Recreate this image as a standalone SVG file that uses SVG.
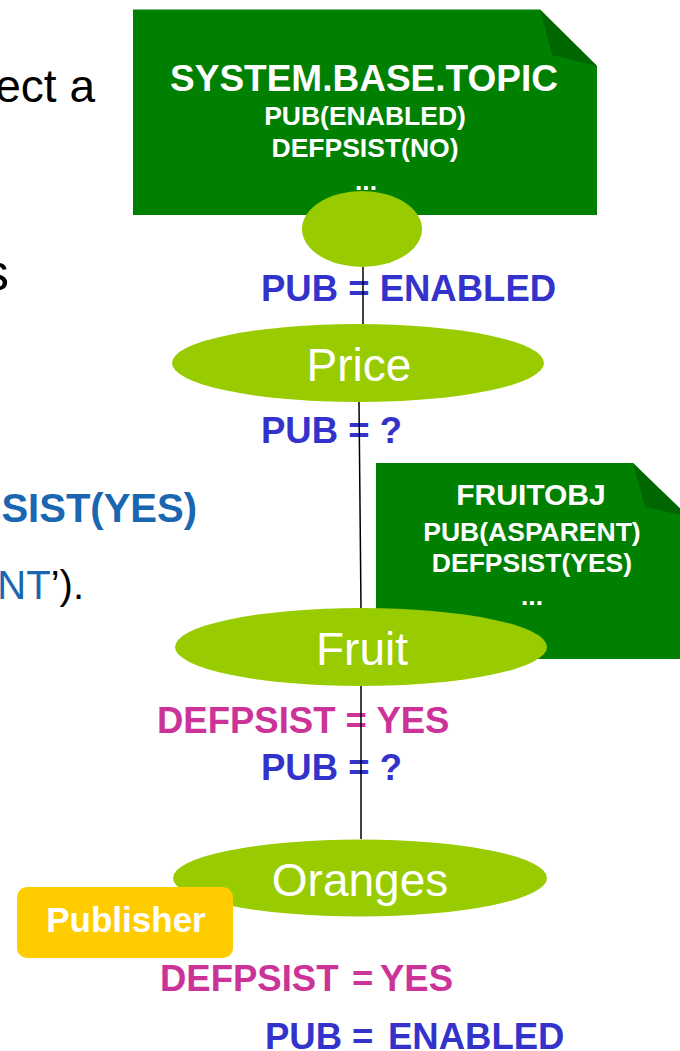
<svg xmlns="http://www.w3.org/2000/svg" width="680" height="1051" viewBox="0 0 680 1051">
<style>
.note{fill:#008000}
.fold{fill:#006600}
.ell{fill:#99cc00}
.nt{font-family:"Liberation Sans",Arial,sans-serif;font-weight:bold;fill:#ffffff;text-anchor:middle}
.et{font-family:"Liberation Sans",Arial,sans-serif;fill:#ffffff;text-anchor:middle;font-size:46px}
.lb{font-family:"Liberation Sans",Arial,sans-serif;font-weight:bold;font-size:36.5px}
.blue{fill:#3333cc}
.mag{fill:#cc3399}
.side{font-family:"Liberation Sans",Arial,sans-serif;font-size:46px;fill:#000000}
.sideblue{fill:#1a66b0}
.conn{stroke:#000000;stroke-width:1.5;fill:none}
</style>
<rect width="680" height="1051" fill="#ffffff"/>
<g id="slide-text">
<text class="side" x="95" y="102" text-anchor="end">ect a</text>
<text class="side" x="9" y="290" text-anchor="end" style="font-size:52px">s</text>
<text class="side sideblue" x="197" y="522" text-anchor="end" style="font-size:40px;font-weight:bold">SIST(YES)</text>
<text class="side" x="84" y="599" text-anchor="end" style="font-size:40px"><tspan class="sideblue">NT</tspan>’).</text>
</g>
<g id="note-system-base-topic">
<polygon class="note" points="133,9.5 540,9.5 597,66 597,215 133,215"/>
<polygon class="fold" points="540,9.5 552,55 597,66"/>
<text class="nt" x="364" y="91" font-size="37">SYSTEM.BASE.TOPIC</text>
<text class="nt" x="365" y="125" font-size="26.5">PUB(ENABLED)</text>
<text class="nt" x="365" y="157" font-size="26.5">DEFPSIST(NO)</text>
<text class="nt" x="366" y="190" font-size="26.5">...</text>
</g>
<g id="node-root">
<ellipse class="ell" cx="362" cy="229" rx="60" ry="38"/>
</g>
<g id="note-fruitobj">
<polygon class="note" points="376,463 633,463 689,519 689,659 376,659"/>
<polygon class="fold" points="633,463 645,507 689,517"/>
<text class="nt" x="531" y="505" font-size="30">FRUITOBJ</text>
<text class="nt" x="532" y="541" font-size="26.5">PUB(ASPARENT)</text>
<text class="nt" x="532" y="572" font-size="26.5">DEFPSIST(YES)</text>
<text class="nt" x="532" y="605" font-size="26.5">...</text>
</g>
<g id="node-price">
<ellipse class="ell" cx="358" cy="363" rx="186" ry="39"/>
<text class="et" x="359" y="381">Price</text>
</g>
<g id="node-fruit">
<ellipse class="ell" cx="361" cy="647" rx="186" ry="39"/>
<text class="et" x="362" y="665">Fruit</text>
</g>
<g id="node-oranges">
<ellipse class="ell" cx="360" cy="878" rx="187" ry="38.5"/>
<text class="et" x="360" y="896">Oranges</text>
</g>
<g id="node-publisher">
<rect x="17" y="887" width="216" height="71" rx="10" fill="#ffcc00"/>
<text class="nt" x="126" y="932" font-size="35">Publisher</text>
</g>
<g id="labels">
<text class="lb blue" x="261" y="301">PUB = ENABLED</text>
<text class="lb blue" x="261" y="443">PUB = ?</text>
<text class="lb mag" x="157" y="733">DEFPSIST = YES</text>
<text class="lb blue" x="261" y="780">PUB = ?</text>
<text class="lb mag" y="991"><tspan x="160">DEFPSIST</tspan><tspan x="352">=</tspan><tspan x="380">YES</tspan></text>
<text class="lb blue" y="1049"><tspan x="265">PUB</tspan><tspan x="352">=</tspan><tspan x="388">ENABLED</tspan></text>
</g>
<g id="connectors">
<line class="conn" x1="363" y1="267" x2="363" y2="324"/>
<line class="conn" x1="359" y1="402" x2="361" y2="608"/>
<line class="conn" x1="361" y1="686" x2="361" y2="839"/>
</g>
</svg>
